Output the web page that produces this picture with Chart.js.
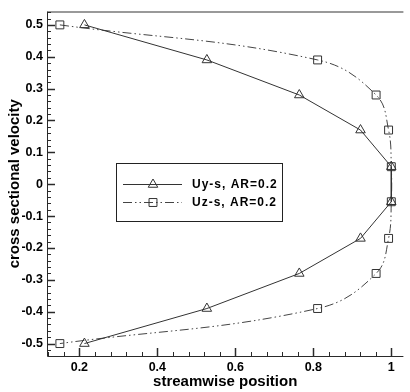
<!DOCTYPE html>
<html>
<head>
<meta charset="utf-8">
<script src="https://cdn.jsdelivr.net/npm/chart.js@4/dist/chart.umd.min.js"></script>
<style>
  html, body { margin: 0; padding: 0; background: #fff; }
  #wrap { width: 410px; height: 392px; }
</style>
</head>
<body>
<div id="wrap"><canvas id="c" width="410" height="392"></canvas></div>
<script>
// cross sectional velocity levels (y) shared by both profiles
const velocityLevels = [0.5, 0.39, 0.28, 0.17, 0.055, -0.055, -0.17, -0.28, -0.39, -0.5];
// streamwise position (x) of each profile at those levels
const uyPosition = [0.213, 0.527, 0.764, 0.921, 1.0, 1.0, 0.921, 0.764, 0.527, 0.213];
const uzPosition = [0.150, 0.811, 0.961, 0.993, 1.0, 1.0, 0.993, 0.961, 0.811, 0.150];
const seriesNames = ['Uy-s, AR=0.2', 'Uz-s, AR=0.2'];
const xTickValues = [0.2, 0.4, 0.6, 0.8, 1];
const yTickValues = [-0.5, -0.4, -0.3, -0.2, -0.1, 0, 0.1, 0.2, 0.3, 0.4, 0.5];

const pairs = (xs, ys) => xs.map((v, i) => ({ x: v, y: ys[i] }));
const fmt = v => {
  const r = Math.round(v * 10) / 10;
  return r === 0 ? '0' : String(r);
};

const INK = '#2a2a2a';
const FONT = '"Liberation Sans", Arial, sans-serif';

// inward ticks (major + minor) and the axis frame
const frameAndTicks = {
  id: 'frameAndTicks',
  afterDatasetsDraw(chart) {
    const { ctx, chartArea: a, scales: { x, y } } = chart;
    ctx.save();
    ctx.strokeStyle = INK;
    ctx.lineWidth = 1;
    // frame: left, bottom, top
    ctx.beginPath();
    ctx.moveTo(a.left + 0.5, a.top);
    ctx.lineTo(a.left + 0.5, a.bottom + 0.5);
    ctx.lineTo(a.right, a.bottom + 0.5);
    ctx.stroke();
    ctx.strokeStyle = '#777';
    ctx.lineWidth = 1.5;
    ctx.beginPath();
    ctx.moveTo(a.left, a.top + 0.5);
    ctx.lineTo(a.right, a.top + 0.5);
    ctx.stroke();

    ctx.strokeStyle = INK;
    const xStep = (xTickValues[1] - xTickValues[0]) / 5;
    for (let k = Math.ceil(x.min / xStep); k * xStep <= x.max + 1e-9; k++) {
      const v = k * xStep;
      const major = xTickValues.some(t => Math.abs(t - v) < 1e-6);
      const px = Math.round(x.getPixelForValue(v)) + 0.5;
      ctx.beginPath();
      ctx.moveTo(px, a.bottom);
      ctx.lineTo(px, a.bottom - (major ? 8 : 4));
      ctx.lineWidth = major ? 1.5 : 1;
      ctx.stroke();
    }
    const yStep = (yTickValues[1] - yTickValues[0]) / 5;
    for (let k = Math.ceil(y.min / yStep); k * yStep <= y.max + 1e-9; k++) {
      const v = k * yStep;
      const major = yTickValues.some(t => Math.abs(t - v) < 1e-6);
      const py = Math.round(y.getPixelForValue(v)) + 0.5;
      ctx.beginPath();
      ctx.moveTo(a.left, py);
      ctx.lineTo(a.left + (major ? 8 : 4), py);
      ctx.lineWidth = major ? 1.5 : 1;
      ctx.stroke();
    }
    ctx.restore();
  }
};

// boxed legend inside the plot area
const boxLegend = {
  id: 'boxLegend',
  afterDraw(chart) {
    const { ctx } = chart;
    const box = { l: 116.5, t: 163.5, r: 282.5, b: 221.5 };
    ctx.save();
    ctx.fillStyle = '#fff';
    ctx.fillRect(box.l, box.t, box.r - box.l, box.b - box.t);
    ctx.strokeStyle = '#222';
    ctx.lineWidth = 1;
    ctx.strokeRect(box.l, box.t, box.r - box.l, box.b - box.t);
    const rows = [184, 202];
    chart.data.datasets.forEach((ds, i) => {
      const yy = rows[i] + 0.5;
      ctx.strokeStyle = ds.borderColor;
      ctx.lineWidth = ds.borderWidth;
      ctx.setLineDash(ds.borderDash || []);
      ctx.beginPath();
      ctx.moveTo(123, yy);
      ctx.lineTo(182, yy);
      ctx.stroke();
      ctx.setLineDash([]);
      // hollow marker
      ctx.fillStyle = 'rgba(0,0,0,0)';
      ctx.strokeStyle = ds.pointBorderColor;
      ctx.lineWidth = ds.pointBorderWidth;
      Chart.helpers.drawPoint(ctx, {
        pointStyle: ds.pointStyle,
        radius: ds.pointRadius,
        rotation: 0,
        borderWidth: ds.pointBorderWidth
      }, 153, yy);
      ctx.fillStyle = '#000';
      ctx.font = 'bold 12px ' + FONT;
      ctx.letterSpacing = '1px';
      ctx.textAlign = 'left';
      ctx.textBaseline = 'middle';
      ctx.fillText(ds.label, 192, rows[i] + 1);
      ctx.letterSpacing = '0px';
    });
    ctx.restore();
  }
};

new Chart(document.getElementById('c'), {
  type: 'scatter',
  data: {
    datasets: [
      {
        label: seriesNames[0],
        data: pairs(uyPosition, velocityLevels),
        showLine: true,
        tension: 0,
        borderColor: '#333',
        borderWidth: 1,
        pointStyle: 'triangle',
        pointRadius: 5.5,
        pointBorderWidth: 1,
        pointBorderColor: '#333',
        pointBackgroundColor: 'rgba(0,0,0,0)'
      },
      {
        label: seriesNames[1],
        data: pairs(uzPosition, velocityLevels),
        showLine: true,
        tension: 0.4,
        borderColor: '#444',
        borderWidth: 1,
        borderDash: [9, 3, 1.5, 3, 1.5, 3],
        pointStyle: 'rect',
        pointRadius: 5.6,
        pointBorderWidth: 1,
        pointBorderColor: '#333',
        pointBackgroundColor: 'rgba(0,0,0,0)'
      }
    ]
  },
  options: {
    responsive: false,
    animation: false,
    events: [],
    layout: { padding: { top: 9, right: 0, bottom: 0, left: 0 } },
    plugins: { legend: { display: false }, tooltip: { enabled: false } },
    scales: {
      x: {
        type: 'linear',
        min: 0.117,
        max: 1.031,
        afterFit(s) { s.height = 36; },
        afterBuildTicks(s) { s.ticks = xTickValues.map(v => ({ value: v })); },
        grid: { display: false, drawTicks: false },
        border: { display: false },
        ticks: {
          padding: 4,
          color: '#000',
          font: { family: FONT, size: 12.5, weight: 'bold' },
          callback: v => fmt(v)
        },
        title: {
          display: true,
          text: 'streamwise position',
          color: '#000',
          padding: { top: 0, bottom: 1 },
          font: { family: FONT, size: 15, weight: 'bold' }
        }
      },
      y: {
        type: 'linear',
        min: -0.539,
        max: 0.542,
        afterFit(s) { s.width = 47; },
        afterBuildTicks(s) { s.ticks = yTickValues.map(v => ({ value: v })); },
        grid: { display: false, drawTicks: false },
        border: { display: false },
        ticks: {
          padding: 4,
          color: '#000',
          font: { family: FONT, size: 12.5, weight: 'bold' },
          callback: v => fmt(v)
        },
        title: {
          display: true,
          text: 'cross sectional velocity',
          color: '#000',
          padding: { top: 6, bottom: 0 },
          font: { family: FONT, size: 15, weight: 'bold' }
        }
      }
    }
  },
  plugins: [frameAndTicks, boxLegend]
});
</script>
</body>
</html>
